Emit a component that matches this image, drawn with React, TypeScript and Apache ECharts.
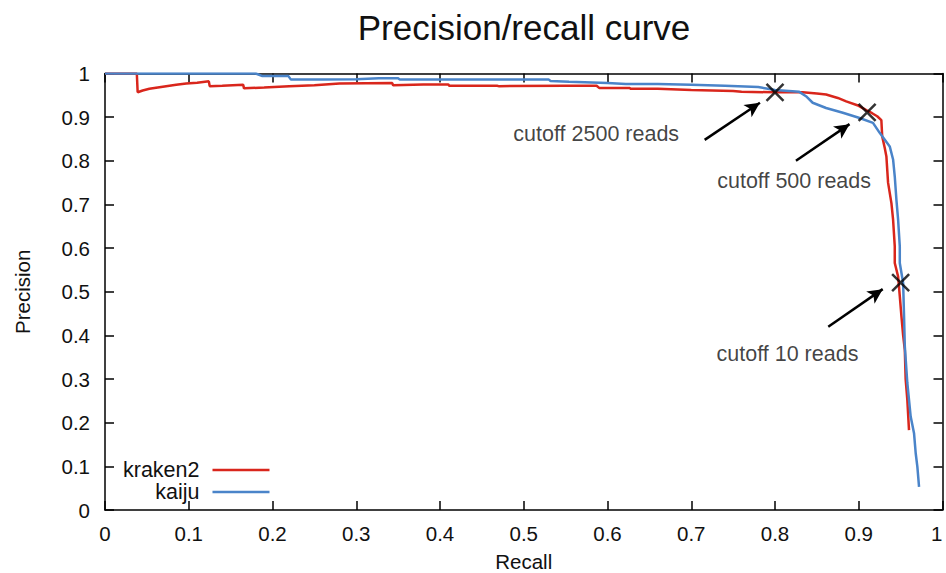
import React, { useEffect, useRef } from "react";
import * as echarts from "echarts";

const seriesNames = ["kraken2", "kaiju"];

const kraken2: [number, number][] = [
  [0, 1], [0.038, 1], [0.039, 0.957], [0.045, 0.961], [0.053, 0.965], [0.063, 0.968],
  [0.073, 0.971], [0.085, 0.974], [0.097, 0.977], [0.11, 0.979], [0.124, 0.982],
  [0.125, 0.971], [0.14, 0.972], [0.165, 0.974], [0.166, 0.966], [0.19, 0.968],
  [0.22, 0.971], [0.25, 0.973], [0.28, 0.977], [0.343, 0.978], [0.344, 0.973],
  [0.38, 0.975], [0.41, 0.975], [0.411, 0.972], [0.468, 0.972], [0.47, 0.971],
  [0.55, 0.972], [0.587, 0.972], [0.59, 0.967], [0.626, 0.967], [0.628, 0.965],
  [0.66, 0.965], [0.7, 0.962], [0.75, 0.96], [0.76, 0.958], [0.8, 0.957],
  [0.833, 0.957], [0.85, 0.954], [0.861, 0.952], [0.875, 0.944], [0.885, 0.936],
  [0.9, 0.926], [0.91, 0.915], [0.916, 0.909], [0.922, 0.902], [0.927, 0.893],
  [0.928, 0.856], [0.931, 0.83], [0.933, 0.81], [0.935, 0.75], [0.939, 0.703],
  [0.941, 0.665], [0.943, 0.604], [0.943, 0.566], [0.947, 0.535], [0.949, 0.49],
  [0.951, 0.443], [0.953, 0.4], [0.955, 0.367], [0.956, 0.3], [0.958, 0.252],
  [0.96, 0.183],
];

const kaiju: [number, number][] = [
  [0, 1], [0.18, 1], [0.188, 0.994], [0.219, 0.994], [0.222, 0.986], [0.26, 0.986],
  [0.3, 0.987], [0.327, 0.989], [0.35, 0.989], [0.352, 0.986], [0.45, 0.986],
  [0.53, 0.986], [0.532, 0.983], [0.554, 0.981], [0.6, 0.978], [0.622, 0.976],
  [0.66, 0.976], [0.7, 0.974], [0.74, 0.972], [0.78, 0.969], [0.8, 0.962],
  [0.829, 0.958], [0.837, 0.948], [0.845, 0.933], [0.861, 0.921], [0.881, 0.91],
  [0.901, 0.898], [0.917, 0.887], [0.925, 0.864], [0.937, 0.833], [0.941, 0.803],
  [0.943, 0.764], [0.945, 0.71], [0.947, 0.665], [0.949, 0.604], [0.949, 0.566],
  [0.953, 0.52], [0.954, 0.45], [0.955, 0.375], [0.958, 0.291], [0.962, 0.214],
  [0.966, 0.176], [0.968, 0.13], [0.97, 0.099], [0.972, 0.053],
];

const cutoffLabels = ["cutoff 2500 reads", "cutoff 500 reads", "cutoff 10 reads"];
const cutoffPoints: [number, number][] = [[0.8, 0.957], [0.91, 0.911], [0.95, 0.521]];
const arrowTails: [number, number][] = [[0.716, 0.848], [0.825, 0.8], [0.8636, 0.42]];
const arrowHeads: [number, number][] = [[0.782, 0.933], [0.889, 0.884], [0.9286, 0.506]];
const labelAnchors: [number, number][] = [[0.487, 0.8605], [0.7304, 0.7537], [0.7296, 0.3565]];

const FONT = "'Liberation Sans', Arial, Helvetica, sans-serif";
const INK = "#111";
const RED = "#d9261c";
const BLUE = "#4a84c9";

const fmt = (v: number) => String(+v.toFixed(1));

function makeAxis(kind: "x" | "y", main: boolean) {
  const position = kind === "x" ? (main ? "bottom" : "top") : main ? "left" : "right";
  const ax: any = {
    type: "value",
    min: 0,
    max: 1,
    interval: 0.1,
    position,
    axisLine: { show: true, onZero: false, lineStyle: { color: "#000", width: 1.5 } },
    axisTick: { show: true, inside: true, length: 9, lineStyle: { color: "#000", width: 1.5 } },
    axisLabel: {
      show: main,
      fontSize: 20.5,
      fontFamily: FONT,
      color: INK,
      margin: kind === "x" ? 13 : 15,
      formatter: fmt,
      hideOverlap: false,
    },
    splitLine: { show: false },
  };
  if (kind === "x" && main) {
    ax.axisLabel.alignMaxLabel = "right";
  }
  if (main) {
    ax.name = kind === "x" ? "Recall" : "Precision";
    ax.nameLocation = "middle";
    if (kind === "x") {
      ax.nameGap = 51;
      ax.nameTextStyle = {
        fontSize: 20.5,
        fontFamily: FONT,
        color: INK,
        verticalAlign: "middle",
        lineHeight: 16,
      };
    } else {
      ax.nameGap = 72;
      ax.nameTextStyle = { fontSize: 20.5, fontFamily: FONT, color: INK };
    }
  }
  return ax;
}

export default function App() {
  const ref = useRef<HTMLDivElement>(null);
  useEffect(() => {
    if (!ref.current) return;
    const chart = echarts.init(ref.current, undefined, { renderer: "svg" });
    chart.setOption({
      animation: false,
      backgroundColor: "#fff",
      title: {
        text: "Precision/recall curve",
        left: 519,
        top: 5,
        textAlign: "center",
        textStyle: { fontSize: 35, fontWeight: "normal", fontFamily: FONT, color: INK },
      },
      grid: {
        left: 105,
        right: 3.5,
        top: 73.5,
        bottom: 63,
        containLabel: false,
        outerBoundsMode: "none",
      },
      xAxis: [makeAxis("x", true), makeAxis("x", false)],
      yAxis: [makeAxis("y", true), makeAxis("y", false)],
      legend: {
        data: seriesNames,
        orient: "vertical",
        align: "right",
        left: 123,
        top: 459,
        padding: 0,
        icon: "rect",
        itemWidth: 57,
        itemHeight: 2.5,
        itemGap: 0,
        textStyle: {
          fontSize: 21.5,
          lineHeight: 21.7,
          fontFamily: FONT,
          color: INK,
          padding: [0, 8, 0, 0],
        },
      },
      series: [
        {
          name: seriesNames[0],
          type: "line",
          data: kraken2,
          symbol: "none",
          showSymbol: false,
          color: RED,
          lineStyle: { color: RED, width: 2.5 },
          z: 2,
        },
        {
          name: seriesNames[1],
          type: "line",
          data: kaiju,
          symbol: "none",
          showSymbol: false,
          color: BLUE,
          lineStyle: { color: BLUE, width: 2.5 },
          z: 3,
        },
        {
          name: "cutoffs",
          type: "scatter",
          data: cutoffPoints,
          symbol: "path://M0,0L10,10M10,0L0,10",
          symbolSize: 17,
          itemStyle: { color: "rgba(0,0,0,0)", borderColor: "#000", borderWidth: 2.5 },
          z: 5,
          markLine: {
            silent: true,
            symbol: ["none", "arrow"],
            symbolSize: [11, 15],
            label: { show: false },
            lineStyle: { color: "#000", width: 2.5, type: "solid" },
            data: arrowTails.map((t, i) => [
              { coord: t },
              { coord: arrowHeads[i] },
            ]),
          },
        },
        {
          name: "annotations",
          type: "scatter",
          data: labelAnchors.map((c, i) => ({ value: c, name: cutoffLabels[i] })),
          symbolSize: 1,
          itemStyle: { color: "rgba(0,0,0,0)" },
          label: {
            show: true,
            position: "right",
            distance: 0,
            formatter: (p: any) => p.name,
            fontSize: 21.5,
            fontFamily: FONT,
            color: INK,
          },
          z: 6,
        },
      ],
    });
    return () => chart.dispose();
  }, []);
  return (
    <div
      ref={ref}
      style={{ position: "fixed", left: 0, top: 0, width: 946, height: 573, background: "#fff" }}
    />
  );
}
